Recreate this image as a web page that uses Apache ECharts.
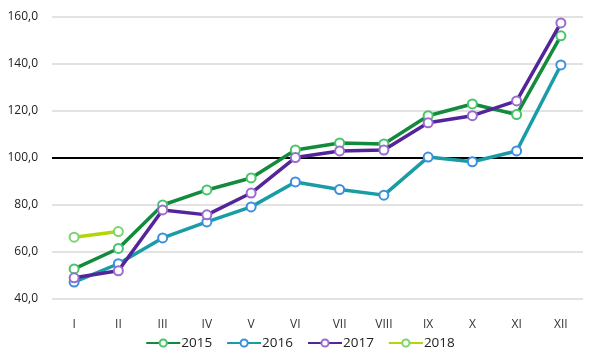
<!DOCTYPE html>
<html>
<head>
<meta charset="utf-8">
<script src="https://cdn.jsdelivr.net/npm/echarts@6/dist/echarts.min.js"></script>
<style>
    html, body { margin: 0; padding: 0; background: #fff; }
    #chart { width: 600px; height: 353px; }
</style>
</head>
<body>
<div id="chart"></div>
<script>
// Data
var months = ['I', 'II', 'III', 'IV', 'V', 'VI', 'VII', 'VIII', 'IX', 'X', 'XI', 'XII'];
var data2015 = [52.8, 61.5, 80.0, 86.4, 91.5, 103.4, 106.4, 106.0, 118.0, 123.0, 118.5, 152.0];
var data2016 = [47.2, 55.0, 66.0, 72.8, 79.2, 89.8, 86.6, 84.2, 100.4, 98.4, 103.0, 139.6];
var data2017 = [49.0, 52.0, 77.9, 75.8, 85.1, 100.2, 103.0, 103.4, 115.0, 118.0, 124.3, 157.5];
var data2018 = [66.3, 68.7];

// Colors
var lineColors = ['#138a3c', '#1a9ca6', '#54259a', '#b7d30c'],
    markerColors = ['#45c66a', '#3c8fe0', '#9a6ad0', '#7ed36e'];

var chart = echarts.init(document.getElementById('chart'), null, { renderer: 'canvas' });

var makeSeries = function(name, values, i) {
    return {
        name: name,
        type: 'line',
        data: values,
        symbol: 'emptyCircle',
        symbolSize: 9,
        lineStyle: { color: lineColors[i], width: 3.5 },
        itemStyle: { color: markerColors[i], borderWidth: 1.5 },
        emphasis: { disabled: true },
        z: 3 + i
    };
};

var series = [
    makeSeries('2015', data2015, 0),
    makeSeries('2016', data2016, 1),
    makeSeries('2017', data2017, 2),
    makeSeries('2018', data2018, 3)
];

// Reference line at 100
series[0].markLine = {
    silent: true,
    symbol: 'none',
    label: { show: false },
    lineStyle: { color: '#000', width: 1.8, type: 'solid' },
    data: [{ yAxis: 100 }],
    z: 2
};

chart.setOption({
    animation: false,
    textStyle: { fontFamily: 'Open Sans', color: '#333' },
    grid: { left: 52, right: 17, top: 17, bottom: 54 },
    legend: {
        top: 331,
        left: 'center',
        itemWidth: 34,
        itemHeight: 9,
        itemGap: 14,
        textStyle: { fontSize: 13.5, color: '#222', padding: [0, 0, 0, -4] },
        data: ['2015', '2016', '2017', '2018']
    },
    xAxis: {
        type: 'category',
        data: months,
        boundaryGap: true,
        axisLine: { show: false },
        axisTick: { show: false },
        axisLabel: { fontSize: 12, color: '#333', margin: 20 }
    },
    yAxis: {
        type: 'value',
        min: 40,
        max: 160,
        interval: 20,
        axisLine: { show: false },
        axisTick: { show: false },
        axisLabel: {
            fontSize: 12,
            color: '#222',
            margin: 14,
            formatter: function(v) { return v.toFixed(1).replace('.', ','); }
        },
        splitLine: { lineStyle: { color: '#d9d9d9', width: 1.5 } }
    },
    series: series
});
</script>
</body>
</html>
